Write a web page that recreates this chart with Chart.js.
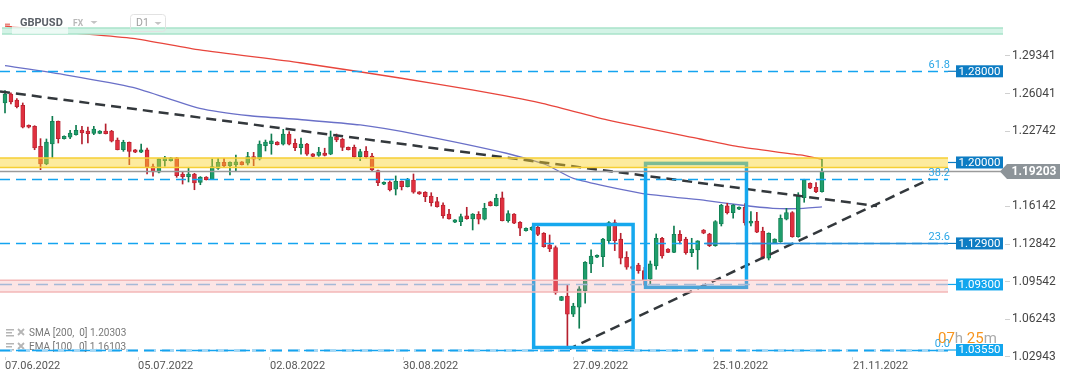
<!DOCTYPE html>
<html>
<head>
<meta charset="utf-8">
<script src="https://cdn.jsdelivr.net/npm/chart.js@4.4.1/dist/chart.umd.min.js"></script>
<style>
  html, body { margin: 0; padding: 0; background: #fff; }
  #wrap { width: 1072px; height: 382px; position: relative; }
</style>
</head>
<body>
<div id="wrap"><canvas id="chart"></canvas></div>
<script>
// GBPUSD D1 candles, one entry per candle (index 0 = 07.06.2022)
const opens = [
  1.2522, 1.2601, 1.2548, 1.2502, 1.2326, 1.2317, 1.2142, 1.1987, 1.2162, 1.2361,
  1.2209, 1.2221, 1.2244, 1.2285, 1.2276, 1.2256, 1.2256, 1.2276, 1.2276, 1.2197,
  1.2112, 1.2177, 1.2110, 1.2090, 1.2110, 1.1963, 1.1914, 1.2016, 1.2016, 1.2040,
  1.1899, 1.1876, 1.1899, 1.1826, 1.1873, 1.1853, 1.1949, 1.2002, 1.1972, 1.1981,
  1.2005, 1.1993, 1.2051, 1.2031, 1.2147, 1.2165, 1.2180, 1.2160, 1.2250, 1.2168,
  1.2130, 1.2162, 1.2075, 1.2063, 1.2083, 1.2072, 1.2226, 1.2203, 1.2133, 1.2133,
  1.2051, 1.2098, 1.2057, 1.1928, 1.1809, 1.1829, 1.1765, 1.1835, 1.1788, 1.1846,
  1.1741, 1.1739, 1.1706, 1.1656, 1.1627, 1.1548, 1.1476, 1.1481, 1.1531, 1.1505,
  1.1546, 1.1502, 1.1654, 1.1621, 1.1689, 1.1490, 1.1548, 1.1476, 1.1402, 1.1408,
  1.1432, 1.1379, 1.1277, 1.1253, 1.0791, 1.0829, 1.0669, 1.0730, 1.0876, 1.1110,
  1.1169, 1.1174, 1.1314, 1.1472, 1.1327, 1.1169, 1.1081, 1.1101, 1.1051, 1.0976,
  1.1092, 1.1335, 1.1241, 1.1212, 1.1370, 1.1327, 1.1209, 1.1233, 1.1408, 1.1373,
  1.1271, 1.1461, 1.1619, 1.1560, 1.1590, 1.1607, 1.1467, 1.1487, 1.1399, 1.1160,
  1.1297, 1.1306, 1.1502, 1.1560, 1.1349, 1.1691, 1.1818, 1.1783, 1.1744
];
const highs = [
  1.2630, 1.2610, 1.2560, 1.2522, 1.2330, 1.2323, 1.2209, 1.2206, 1.2405, 1.2364,
  1.2234, 1.2282, 1.2326, 1.2317, 1.2311, 1.2317, 1.2280, 1.2338, 1.2282, 1.2215,
  1.2195, 1.2180, 1.2114, 1.2162, 1.2127, 1.1987, 1.2033, 1.2054, 1.2045, 1.2045,
  1.1914, 1.1958, 1.1905, 1.1876, 1.1876, 1.2031, 1.2037, 1.2037, 1.2005, 1.2066,
  1.2008, 1.2089, 1.2089, 1.2189, 1.2197, 1.2250, 1.2183, 1.2291, 1.2270, 1.2206,
  1.2215, 1.2168, 1.2078, 1.2133, 1.2125, 1.2276, 1.2250, 1.2212, 1.2136, 1.2153,
  1.2116, 1.2139, 1.2081, 1.1934, 1.1830, 1.1838, 1.1882, 1.1838, 1.1861, 1.1899,
  1.1745, 1.1744, 1.1735, 1.1695, 1.1647, 1.1590, 1.1500, 1.1548, 1.1607, 1.1552,
  1.1569, 1.1642, 1.1660, 1.1721, 1.1741, 1.1577, 1.1552, 1.1481, 1.1427, 1.1436,
  1.1443, 1.1385, 1.1364, 1.1268, 1.0826, 1.0926, 1.0765, 1.0911, 1.1130, 1.1233,
  1.1190, 1.1335, 1.1481, 1.1496, 1.1379, 1.1218, 1.1090, 1.1116, 1.1080, 1.1136,
  1.1373, 1.1344, 1.1245, 1.1443, 1.1402, 1.1344, 1.1335, 1.1314, 1.1412, 1.1379,
  1.1490, 1.1633, 1.1642, 1.1630, 1.1611, 1.1640, 1.1569, 1.1563, 1.1432, 1.1383,
  1.1331, 1.1540, 1.1598, 1.1569, 1.1735, 1.1853, 1.1822, 1.1823, 1.2028
];
const lows = [
  1.2434, 1.2513, 1.2478, 1.2303, 1.2303, 1.2112, 1.1937, 1.1980, 1.2040, 1.2171,
  1.2205, 1.2209, 1.2240, 1.2162, 1.2171, 1.2244, 1.2252, 1.2250, 1.2180, 1.2110,
  1.2098, 1.1981, 1.2086, 1.2086, 1.1899, 1.1879, 1.1908, 1.1967, 1.2012, 1.1870,
  1.1811, 1.1829, 1.1761, 1.1805, 1.1846, 1.1849, 1.1940, 1.1958, 1.1890, 1.1919,
  1.1978, 1.1978, 1.1972, 1.2022, 1.2101, 1.2072, 1.2153, 1.2153, 1.2153, 1.2104,
  1.2072, 1.2063, 1.2051, 1.2054, 1.2057, 1.2068, 1.2182, 1.2104, 1.2109, 1.2046,
  1.2016, 1.2037, 1.1919, 1.1797, 1.1805, 1.1750, 1.1715, 1.1759, 1.1785, 1.1730,
  1.1720, 1.1656, 1.1618, 1.1607, 1.1511, 1.1502, 1.1472, 1.1446, 1.1502, 1.1408,
  1.1461, 1.1496, 1.1618, 1.1618, 1.1487, 1.1476, 1.1463, 1.1358, 1.1398, 1.1404,
  1.1358, 1.1257, 1.1218, 1.0844, 1.0788, 1.0355, 1.0648, 1.0546, 1.0765, 1.1033,
  1.1165, 1.1086, 1.1297, 1.1227, 1.1110, 1.1063, 1.1060, 1.1028, 1.0925, 1.0932,
  1.1063, 1.1160, 1.1208, 1.1209, 1.1285, 1.1195, 1.1174, 1.1063, 1.1375, 1.1262,
  1.1265, 1.1443, 1.1548, 1.1511, 1.1586, 1.1450, 1.1443, 1.1385, 1.1154, 1.1145,
  1.1293, 1.1300, 1.1496, 1.1344, 1.1344, 1.1651, 1.1770, 1.1735, 1.1740
];
const closes = [
  1.2601, 1.2531, 1.2489, 1.2309, 1.2309, 1.2127, 1.1987, 1.2180, 1.2361, 1.2209,
  1.2230, 1.2259, 1.2282, 1.2259, 1.2253, 1.2294, 1.2276, 1.2253, 1.2186, 1.2112,
  1.2177, 1.2098, 1.2090, 1.2110, 1.1958, 1.1917, 1.2031, 1.2040, 1.2040, 1.1884,
  1.1876, 1.1899, 1.1820, 1.1873, 1.1849, 1.1963, 1.2002, 1.1972, 1.2002, 1.2005,
  1.1981, 1.2051, 1.2028, 1.2162, 1.2180, 1.2189, 1.2156, 1.2250, 1.2160, 1.2130,
  1.2162, 1.2072, 1.2054, 1.2092, 1.2063, 1.2226, 1.2197, 1.2133, 1.2112, 1.2051,
  1.2095, 1.2051, 1.1934, 1.1823, 1.1826, 1.1759, 1.1835, 1.1788, 1.1846, 1.1739,
  1.1724, 1.1700, 1.1647, 1.1612, 1.1533, 1.1507, 1.1496, 1.1525, 1.1507, 1.1548,
  1.1502, 1.1598, 1.1621, 1.1686, 1.1490, 1.1551, 1.1467, 1.1423, 1.1423, 1.1432,
  1.1370, 1.1262, 1.1241, 1.0858, 1.0823, 1.0669, 1.0741, 1.0891, 1.1125, 1.1180,
  1.1186, 1.1327, 1.1472, 1.1314, 1.1160, 1.1081, 1.1070, 1.1051, 1.0970, 1.1110,
  1.1335, 1.1180, 1.1212, 1.1370, 1.1314, 1.1209, 1.1241, 1.1312, 1.1379, 1.1271,
  1.1481, 1.1627, 1.1560, 1.1627, 1.1607, 1.1470, 1.1487, 1.1388, 1.1160, 1.1379,
  1.1327, 1.1511, 1.1560, 1.1349, 1.1715, 1.1846, 1.1774, 1.1744, 1.19203
];

// SMA 200 (red) and EMA 100 (blue), read at candle positions
const smaIdx = [0, 10.4, 21.6, 32.9, 49.8, 66.7, 78.9, 90.4, 101.7, 117.4, 124.2, 134.3, 138];
const smaVal = [1.3197, 1.3142, 1.3089, 1.2987, 1.2875, 1.2741, 1.2636, 1.2522, 1.2373, 1.2206, 1.2136, 1.2066, 1.2030];
const emaIdx = [0, 10.4, 21.6, 32.9, 41.4, 49.8, 60, 69.5, 84.7, 91.5, 96, 107.3, 118.5, 124.2, 129.7, 133.7, 138];
const emaVal = [1.2849, 1.2767, 1.2659, 1.2475, 1.2410, 1.2377, 1.2329, 1.2247, 1.2081, 1.1978, 1.1861, 1.1732, 1.1666, 1.1627, 1.1598, 1.1595, 1.1610];

// drawn trend lines (two points each)
const downTrendIdx = [-0.845, 147.3];
const downTrendVal = [1.2623, 1.1618];
const upTrendIdx = [94.93, 156.25];
const upTrendVal = [1.0355, 1.1855];

// axis ticks
const xTickIdx = [0, 22.47, 44.76, 67.23, 95.95, 119.6, 143.24];
const xTickText = ['07.06.2022', '05.07.2022', '02.08.2022', '30.08.2022', '27.09.2022', '25.10.2022', '21.11.2022'];
const yTickVals = [1.02943, 1.06243, 1.09542, 1.12842, 1.16142, 1.22742, 1.26041, 1.29341];

// levels
const lastPrice = 1.19203;
const fibLevels = [1.2800, 1.1855, 1.1290, 1.0355];
const fibNames = ['61.8', '38.2', '23.6', '0.0'];

const up = closes.map((c, i) => c >= opens[i]);
const bodyColor = up.map(u => u ? '#1f9d6b' : '#e0303f');
const edgeColor = up.map(u => u ? '#0f7c50' : '#b5202e');

const wickData = highs.map((h, i) => ({ x: i, y: [lows[i], h] }));
const bodyData = opens.map((o, i) => ({ x: i, y: [o, closes[i]] }));
const pts = (xs, ys) => xs.map((x, i) => ({ x: x, y: ys[i] }));

const overlay = {
  id: 'overlay',
  beforeDatasetsDraw(chart) {
    const ctx = chart.ctx;
    ctx.save();
    // indicator legend, bottom left
    ctx.fillStyle = '#b5b5b5';
    [[329, 'SMA [200,  0] 1.20303'], [343, 'EMA [100,  0] 1.16103']].forEach(([y, t]) => {
      ctx.fillRect(6, y, 8, 1.5);
      ctx.fillRect(6, y + 3, 6, 1.5);
      ctx.fillRect(6, y + 6, 8, 1.5);
      ctx.strokeStyle = '#b5b5b5';
      ctx.lineWidth = 1.8;
      ctx.beginPath();
      ctx.moveTo(18, y); ctx.lineTo(24, y + 6);
      ctx.moveTo(24, y); ctx.lineTo(18, y + 6);
      ctx.stroke();
      ctx.fillStyle = '#777';
      ctx.font = '10px Roboto';
      ctx.textBaseline = 'middle';
      ctx.fillText(t, 29, y + 4);
      ctx.fillStyle = '#b5b5b5';
    });
    ctx.restore();
  },
  afterDatasetsDraw(chart) {
    const ctx = chart.ctx;
    const xs = chart.scales.x, ys = chart.scales.y;
    const X = v => xs.getPixelForValue(v);
    const Y = v => ys.getPixelForValue(v);
    const R = chart.chartArea.right;
    const lineEnd = R - 57;
    ctx.save();

    // analysis boxes
    ctx.strokeStyle = '#16a8ee';
    ctx.lineWidth = 3.5;
    ctx.strokeRect(X(89.3), Y(1.1456), X(106.1) - X(89.3), Y(1.0377) - Y(1.1456));
    ctx.strokeRect(X(108.2), Y(1.1992), X(125.25) - X(108.2), Y(1.0905) - Y(1.1992));

    // dashed fibonacci / level lines
    const dashed = (v, color, w, dash) => {
      const y = Math.round(Y(v)) + 0.5;
      ctx.strokeStyle = color;
      ctx.lineWidth = w;
      ctx.setLineDash(dash);
      ctx.beginPath();
      ctx.moveTo(0, y);
      ctx.lineTo(lineEnd, y);
      ctx.stroke();
    };
    dashed(1.0355, '#a6d8f5', 3, [12, 6]);
    fibLevels.forEach(v => dashed(v, '#14a4f0', 1.6, [10, 6]));
    dashed(1.0930, '#8cc4ec', 1.6, [12, 6]);
    ctx.setLineDash([]);
    ctx.strokeStyle = '#2a8fd8';
    ctx.lineWidth = 1.5;
    ctx.beginPath();
    ctx.moveTo(X(118.3), Y(1.1290));
    ctx.lineTo(lineEnd, Y(1.1290));
    ctx.stroke();

    // zones
    const band = (a, b, fill, edge, x0, x1) => {
      ctx.fillStyle = fill;
      ctx.fillRect(x0, Y(a), x1 - x0, Y(b) - Y(a));
      ctx.strokeStyle = edge;
      ctx.lineWidth = 1.5;
      ctx.beginPath();
      ctx.moveTo(x0, Y(a)); ctx.lineTo(x1, Y(a));
      ctx.moveTo(x0, Y(b)); ctx.lineTo(x1, Y(b));
      ctx.stroke();
    };
    band(1.2039, 1.1955, 'rgba(250,210,40,0.45)', '#f6cf35', 0, lineEnd);
    band(1.0968, 1.0863, 'rgba(245,150,150,0.25)', '#f3b8b8', 0, lineEnd);
    band(1.3180, 1.3127, '#d3f3e6', '#a9e4ca', 2, R - 2);

    // current price line
    ctx.strokeStyle = '#9a9a9a';
    ctx.lineWidth = 1.5;
    ctx.beginPath();
    ctx.moveTo(0, Y(lastPrice));
    ctx.lineTo(R, Y(lastPrice));
    ctx.stroke();

    // fibonacci labels
    ctx.font = '11px Roboto';
    ctx.fillStyle = '#2aa6e6';
    ctx.textAlign = 'right';
    ctx.textBaseline = 'alphabetic';
    fibNames.forEach((t, i) => ctx.fillText(t, lineEnd + 2, Y(fibLevels[i]) - 3));

    // price tags
    const tag = (v, text, bg) => {
      const y = Y(v);
      ctx.strokeStyle = bg;
      ctx.lineWidth = 1.2;
      ctx.beginPath();
      ctx.moveTo(lineEnd, y); ctx.lineTo(R - 49, y);
      ctx.stroke();
      ctx.fillStyle = bg;
      ctx.fillRect(R - 49, y - 6, 47, 12);
      ctx.fillStyle = '#fff';
      ctx.font = '11.5px Roboto';
      ctx.textAlign = 'center';
      ctx.textBaseline = 'middle';
      ctx.fillText(text, R - 25.5, y + 0.5);
    };
    tag(1.2800, '1.28000', '#0d7cc3');
    tag(1.2000, '1.20000', '#0d7cc3');
    tag(1.1290, '1.12900', '#0d7cc3');
    tag(1.0930, '1.09300', '#12a6ee');
    tag(1.0355, '1.03550', '#12a6ee');

    // last price tag
    const ly = Y(lastPrice);
    ctx.fillStyle = '#8d9499';
    ctx.beginPath();
    ctx.moveTo(R - 5, ly);
    ctx.lineTo(R + 2, ly - 7.5);
    ctx.lineTo(R + 55, ly - 7.5);
    ctx.lineTo(R + 55, ly + 7.5);
    ctx.lineTo(R + 2, ly + 7.5);
    ctx.closePath();
    ctx.fill();
    ctx.fillStyle = '#fff';
    ctx.font = 'bold 12px Roboto';
    ctx.textAlign = 'center';
    ctx.textBaseline = 'middle';
    ctx.fillText('1.19203', R + 29, ly + 0.5);

    // candle countdown
    ctx.font = '15px Roboto';
    ctx.textAlign = 'left';
    ctx.textBaseline = 'alphabetic';
    let cx = lineEnd - 10;
    [['07', '#f7941d'], ['h ', '#aaaaaa'], ['25', '#f7941d'], ['m', '#aaaaaa']].forEach(([t, c]) => {
      ctx.fillStyle = c;
      ctx.fillText(t, cx, 343);
      cx += ctx.measureText(t).width;
    });

    // header
    ctx.fillStyle = 'rgba(255,255,255,0.6)';
    ctx.fillRect(12, 14, 56, 20);
    ctx.strokeStyle = '#e8867f';
    ctx.lineWidth = 2;
    ctx.beginPath();
    ctx.moveTo(5, 24.5); ctx.lineTo(10, 24.5);
    ctx.stroke();
    ctx.fillStyle = '#5a5f66';
    ctx.font = 'bold 11px Roboto';
    ctx.textBaseline = 'middle';
    ctx.fillText('GBPUSD', 20, 23);
    ctx.fillStyle = '#b8b8b8';
    ctx.font = 'bold 8.5px Roboto';
    ctx.fillText('FX', 73, 24);
    const tri = (x, y) => {
      ctx.beginPath();
      ctx.moveTo(x, y); ctx.lineTo(x + 7, y); ctx.lineTo(x + 3.5, y + 3);
      ctx.closePath();
      ctx.fill();
    };
    ctx.fillStyle = '#c4c4c4';
    tri(90.5, 21);
    ctx.strokeStyle = '#e2e2e2';
    ctx.lineWidth = 1;
    ctx.beginPath();
    ctx.roundRect(130.5, 14.5, 35, 17, 3);
    ctx.stroke();
    ctx.fillStyle = '#a0a0a0';
    ctx.font = '10.5px Roboto';
    ctx.fillText('D1', 136, 23.5);
    ctx.fillStyle = '#c4c4c4';
    tri(154.5, 22);

    ctx.restore();
  }
};

new Chart(document.getElementById('chart'), {
  type: 'bar',
  data: {
    datasets: [
      {
        type: 'line', data: pts(smaIdx, smaVal), borderColor: '#e8453c', borderWidth: 1.3,
        pointRadius: 0, tension: 0.2, order: 3
      },
      {
        type: 'line', data: pts(emaIdx, emaVal), borderColor: '#6a70c8', borderWidth: 1.3,
        pointRadius: 0, tension: 0.2, order: 3
      },
      {
        data: wickData, backgroundColor: edgeColor, barThickness: 1, grouped: false, order: 2
      },
      {
        data: bodyData, backgroundColor: bodyColor, borderColor: edgeColor, borderWidth: 0.8,
        borderSkipped: false, barThickness: 4, minBarLength: 2, grouped: false, order: 1
      },
      {
        type: 'line', data: pts(downTrendIdx, downTrendVal), borderColor: '#33383c', borderWidth: 2.5,
        borderDash: [10, 6], pointRadius: 0, order: 0
      },
      {
        type: 'line', data: pts(upTrendIdx, upTrendVal), borderColor: '#33383c', borderWidth: 2.5,
        borderDash: [10, 6], pointRadius: 0, order: 0
      }
    ]
  },
  options: {
    responsive: true,
    maintainAspectRatio: false,
    animation: false,
    events: [],
    layout: { padding: 0 },
    plugins: { legend: { display: false }, tooltip: { enabled: false }, title: { display: false } },
    scales: {
      x: {
        type: 'linear',
        min: -0.845,
        max: 168.92,
        offset: false,
        border: { display: false },
        grid: { display: true, drawOnChartArea: false, offset: false, color: '#d6d6d6', tickLength: 3 },
        ticks: {
          align: 'start',
          padding: 0,
          color: '#555',
          font: { family: 'Roboto', size: 11 },
          maxRotation: 0,
          autoSkip: false,
          callback: (v, i) => xTickText[i]
        },
        afterBuildTicks: s => { s.ticks = xTickIdx.map(v => ({ value: v })); },
        afterFit: s => { s.height = 25; s.paddingLeft = 0; s.paddingRight = 0; }
      },
      y: {
        position: 'right',
        min: 1.02937,
        max: 1.34253,
        border: { display: false },
        grid: { drawOnChartArea: false, color: '#d0d0d0', tickLength: 5 },
        ticks: {
          padding: 2,
          color: '#444',
          font: { family: 'Roboto', size: 12 },
          callback: v => v.toFixed(5)
        },
        afterBuildTicks: s => { s.ticks = yTickVals.map(v => ({ value: v })); },
        afterFit: s => { s.width = 67; s.paddingTop = 0; s.paddingBottom = 0; }
      }
    }
  },
  plugins: [overlay]
});
</script>
</body>
</html>
